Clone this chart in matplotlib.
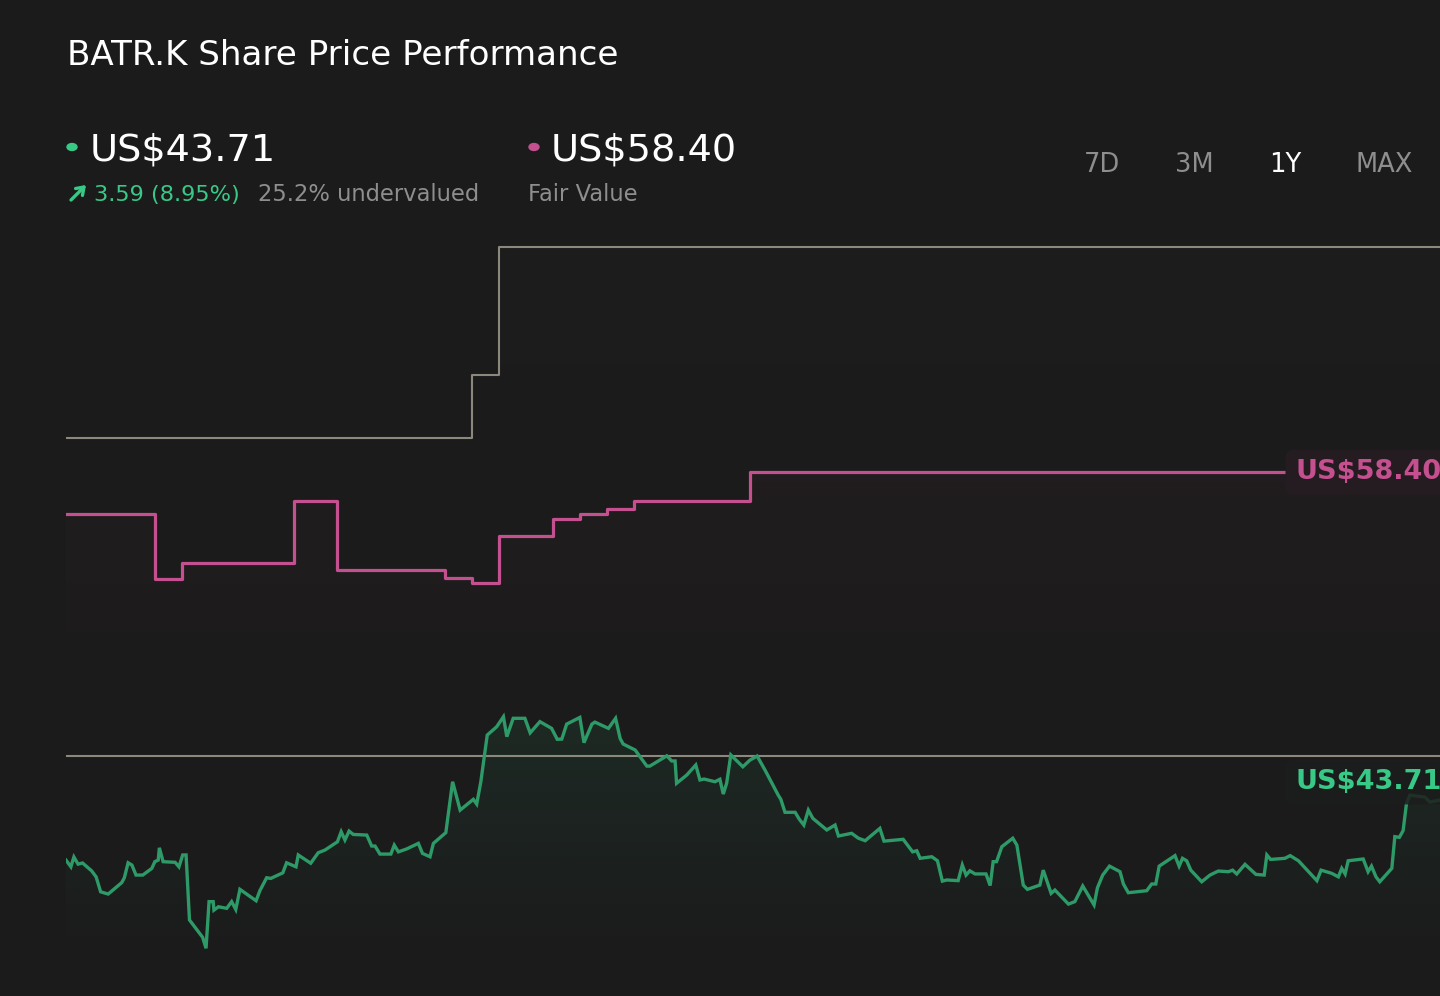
import numpy as np
import matplotlib
matplotlib.use("Agg")
import matplotlib.pyplot as plt
import matplotlib.colors as mcolors
from matplotlib.transforms import blended_transform_factory

# ---------------- data ----------------
# Share price (US$), x = days since start of the 1-year window
price_days = [0, 1.3, 2.1, 3.2, 4.4, 6.8, 8.0, 9.2, 11.2, 14.8, 15.5, 16.5, 17.5, 18.6, 20.4,
              22.8, 23.6, 24.5, 24.8, 25.8, 29.0, 30.0, 31.0, 31.9, 32.8, 36.3, 37.2, 38.0, 39.1,
              39.3, 40.5, 42.7, 44.0, 45.1, 46.2, 50.5, 51.5, 53.3, 54.4, 57.6, 58.6, 61.1, 61.7,
              65.0, 67.0, 68.8, 72.1, 73.1, 74.1, 75.2, 76.3, 79.9, 81.2, 82.1, 83.4, 86.3, 87.2,
              88.3, 90.5, 93.6, 94.7, 96.7, 97.6, 100.9, 102.7, 104.7, 108.2, 109.1, 110.2, 111.9,
              114.4, 116.2, 117.1, 118.8, 121.9, 123.3, 125.9, 129.0, 130.5, 131.7, 133.0, 136.5,
              137.6, 139.7, 140.5, 144.1, 146.0, 147.2, 148.0, 151.2, 154.3, 155.1, 159.6, 160.9,
              161.8, 162.2, 164.9, 167.3, 168.4, 169.5, 172.4, 173.7, 174.6, 175.5, 176.6, 179.8,
              181.7, 183.6, 185.7, 189.2, 189.9, 191.0, 193.7, 194.8, 196.0, 197.2, 198.4, 202.1,
              204.3, 205.2, 208.7, 210.5, 212.3, 216.2, 217.3, 222.4, 224.9, 226.0, 226.9, 230.0,
              231.5, 232.8, 234.0, 237.0, 238.1, 239.1, 240.1, 241.5, 244.4, 245.5, 246.3, 247.2,
              248.6, 251.5, 252.6, 254.3, 255.4, 258.7, 259.6, 261.7, 262.7, 266.3, 268.0, 270.1,
              273.1, 274.0, 275.4, 277.2, 280.0, 280.9, 282.2, 287.1, 288.4, 289.5, 290.4, 294.6,
              295.7, 296.6, 297.7, 298.8, 301.7, 303.9, 306.1, 308.8, 309.9, 311.0, 313.2, 316.1,
              318.3, 319.0, 320.0, 323.8, 325.2, 327.4, 332.3, 333.4, 336.2, 338.0, 338.9, 339.8,
              340.6, 344.6, 345.9, 346.8, 348.0, 349.0, 352.2, 353.0, 354.2, 355.2, 356.1, 357.0,
              361.0, 362.3, 365.0]
price_values = [41.02, 40.72, 41.16, 40.84, 40.89, 40.54, 40.27, 39.60, 39.50, 40.01, 40.23, 40.90,
                40.80, 40.35, 40.35, 40.65, 40.95, 41.02, 41.57, 40.95, 40.92, 40.72, 41.25, 41.25,
                38.34, 37.56, 37.07, 39.16, 39.16, 38.78, 38.93, 38.86, 39.16, 38.81, 39.71, 39.20,
                39.65, 40.23, 40.20, 40.45, 40.90, 40.72, 41.25, 40.88, 41.35, 41.47, 41.84, 42.29,
                41.92, 42.32, 42.17, 42.14, 41.65, 41.65, 41.29, 41.29, 41.69, 41.39, 41.52, 41.77,
                41.32, 41.17, 41.77, 42.25, 44.53, 43.26, 43.74, 43.53, 44.53, 46.62, 46.99, 47.44,
                46.55, 47.37, 47.37, 46.72, 47.22, 46.92, 46.43, 46.44, 47.11, 47.41, 46.28, 47.11,
                47.20, 46.92, 47.37, 46.47, 46.22, 45.95, 45.23, 45.23, 45.69, 45.46, 45.46, 44.46,
                44.83, 45.28, 44.61, 44.65, 44.53, 44.64, 43.98, 44.46, 45.73, 45.20, 45.50, 45.68,
                45.05, 43.93, 43.74, 43.16, 43.16, 42.85, 42.59, 43.26, 42.89, 42.37, 42.59, 42.10,
                42.22, 42.00, 41.89, 42.44, 41.87, 41.95, 41.39, 41.44, 41.10, 41.17, 40.99, 40.08,
                40.13, 40.10, 40.80, 40.35, 40.54, 40.40, 40.40, 39.88, 40.95, 40.95, 41.62, 42.00,
                41.69, 39.90, 39.71, 39.90, 40.57, 39.53, 39.68, 39.05, 39.16, 39.86, 39.01, 39.78,
                40.35, 40.75, 40.50, 39.95, 39.56, 39.65, 39.95, 39.95, 40.75, 41.22, 40.75, 41.10,
                40.99, 40.57, 40.05, 40.35, 40.53, 40.50, 40.57, 40.40, 40.83, 40.38, 40.35, 41.25,
                41.05, 41.10, 41.22, 40.99, 40.10, 40.57, 40.43, 40.27, 40.65, 40.40, 40.99, 41.07,
                40.50, 40.75, 40.27, 40.05, 40.65, 42.07, 42.04, 42.34, 43.56, 43.93, 43.84, 43.62,
                43.71]

# Fair value estimate (step series)
fv_days = [0, 23.6, 30.8, 60.6, 72.0, 100.7, 107.9, 115.0, 129.4, 136.5, 143.7, 150.9, 181.7, 365]
fv_values = [56.52, 53.61, 54.32, 57.10, 54.01, 53.65, 53.43, 55.53, 56.30, 56.52, 56.74, 57.10,
             58.40, 58.40]

# Analyst price target (step series)
target_days = [0, 107.9, 115.0, 365]
target_values = [59.92, 62.74, 68.48, 68.48]

reference_level = 45.68

current_price = "US$43.71"
fair_value = "US$58.40"
change_text = "3.59 (8.95%)"
valuation_text = "25.2% undervalued"
periods = ["7D", "3M", "1Y", "MAX"]
active_period = "1Y"
title = "BATR.K Share Price Performance"

# ---------------- style ----------------
BG = "#1b1b1b"
GREEN_LINE = "#2e9a68"
GREEN_TEXT = "#38c987"
PINK = "#c4508f"
GRAY_LINE = "#8c897c"
GRAY_TEXT = "#8e8e8e"
WHITE = "#ffffff"

W, H = 1440, 996
fig = plt.figure(figsize=(W / 100, H / 100), dpi=100, facecolor=BG)

def fx(px):
    return px / W

def fy(py):
    return 1 - py / H

ax = fig.add_axes([fx(66), fy(955), 1 - fx(66), fy(115) - fy(955)])
ax.set_facecolor(BG)
YMIN, YMAX = 36.77, 74.39
XMIN, XMAX = 0, 365
FILL_BOTTOM = 37.44


def gradient_fill(x, y, color, a_top, a_bot, step=None, z=1, power=1.0):
    poly = ax.fill_between(x, y, FILL_BOTTOM, step=step, facecolor="none", edgecolor="none")
    rgb = mcolors.to_rgb(color)
    grad = np.zeros((512, 1, 4))
    grad[..., :3] = rgb
    t = np.linspace(0, 1, 512) ** (1.0 / power)
    grad[..., 3] = (a_top + (a_bot - a_top) * t)[:, None]
    im = ax.imshow(grad, extent=[min(x), max(x), FILL_BOTTOM, max(y)], origin="upper",
                   aspect="auto", zorder=z, interpolation="bilinear")
    im.set_clip_path(poly.get_paths()[0], ax.transData)


gradient_fill(target_days, target_values, GRAY_LINE, 0.02, 0.0, step="post", z=1, power=2)
gradient_fill(fv_days, fv_values, PINK, 0.045, 0.0, step="post", z=1.1, power=2.5)
gradient_fill(price_days, price_values, GREEN_LINE, 0.12, 0.01, z=1.2)

ax.axhline(reference_level, color=GRAY_LINE, lw=1.5, zorder=2)
ax.plot(target_days, target_values, drawstyle="steps-post", color=GRAY_LINE, lw=1.5, zorder=2)
ax.plot(fv_days, fv_values, drawstyle="steps-post", color=PINK, lw=2.3, zorder=3)
ax.plot(price_days, price_values, color=GREEN_LINE, lw=2.4, zorder=3, solid_joinstyle="miter")

ax.set_xlim(XMIN, XMAX)
ax.set_ylim(YMIN, YMAX)
ax.axis("off")

# right-edge value labels
tr = blended_transform_factory(ax.transAxes, ax.transData)
lab_x = (1295 - 66) / (1440 - 66)
ax.annotate(fair_value, xy=(lab_x, fv_values[-1]), xycoords=tr, xytext=(0, 0),
            textcoords="offset points", ha="left", va="center", fontsize=19.5,
            fontweight="bold", color=PINK, zorder=6, annotation_clip=False,
            bbox=dict(boxstyle="round,pad=0.35,rounding_size=0.3", fc="#241c21", ec="none"))
ax.annotate(current_price, xy=(lab_x, price_values[-1]), xycoords=tr, xytext=(0, 13),
            textcoords="offset points", ha="left", va="center", fontsize=19.5,
            fontweight="bold", color=GREEN_TEXT, zorder=6, annotation_clip=False,
            bbox=dict(boxstyle="round,pad=0.35,rounding_size=0.3", fc="#1c1e1d", ec="none",
                      alpha=0.85))

# ---------------- header ----------------
fig.text(fx(67), fy(65), title, fontsize=24.6, color=WHITE, ha="left", va="baseline")

fig.patches.append(plt.Circle((fx(72), fy(147)), 5 / W, transform=fig.transFigure,
                              color=GREEN_TEXT))
fig.text(fx(90), fy(161), current_price, fontsize=27.5, color=WHITE, ha="left", va="baseline")
fig.add_artist(matplotlib.patches.FancyArrowPatch(
    (fx(71), fy(200)), (fx(86), fy(185)), transform=fig.transFigure,
    arrowstyle="->,head_length=5,head_width=3.5", lw=2.4, color=GREEN_TEXT,
    mutation_scale=1, shrinkA=0, shrinkB=0))
fig.text(fx(94), fy(201), change_text, fontsize=16.2, color=GREEN_TEXT, ha="left", va="baseline")
fig.text(fx(258), fy(201), valuation_text, fontsize=16.3, color=GRAY_TEXT, ha="left",
         va="baseline")

fig.patches.append(plt.Circle((fx(534), fy(147)), 5 / W, transform=fig.transFigure,
                              color=PINK))
fig.text(fx(551), fy(161), fair_value, fontsize=27.5, color=WHITE, ha="left", va="baseline")
fig.text(fx(528), fy(201), "Fair Value", fontsize=16.3, color=GRAY_TEXT, ha="left",
         va="baseline")

period_x = [1102, 1194, 1285, 1384]
for label, px in zip(periods, period_x):
    fig.text(fx(px), fy(172), label, fontsize=18.5, ha="center", va="baseline",
             color=WHITE if label == active_period else GRAY_TEXT)

fig.savefig("out.png", dpi=100, facecolor=BG)
